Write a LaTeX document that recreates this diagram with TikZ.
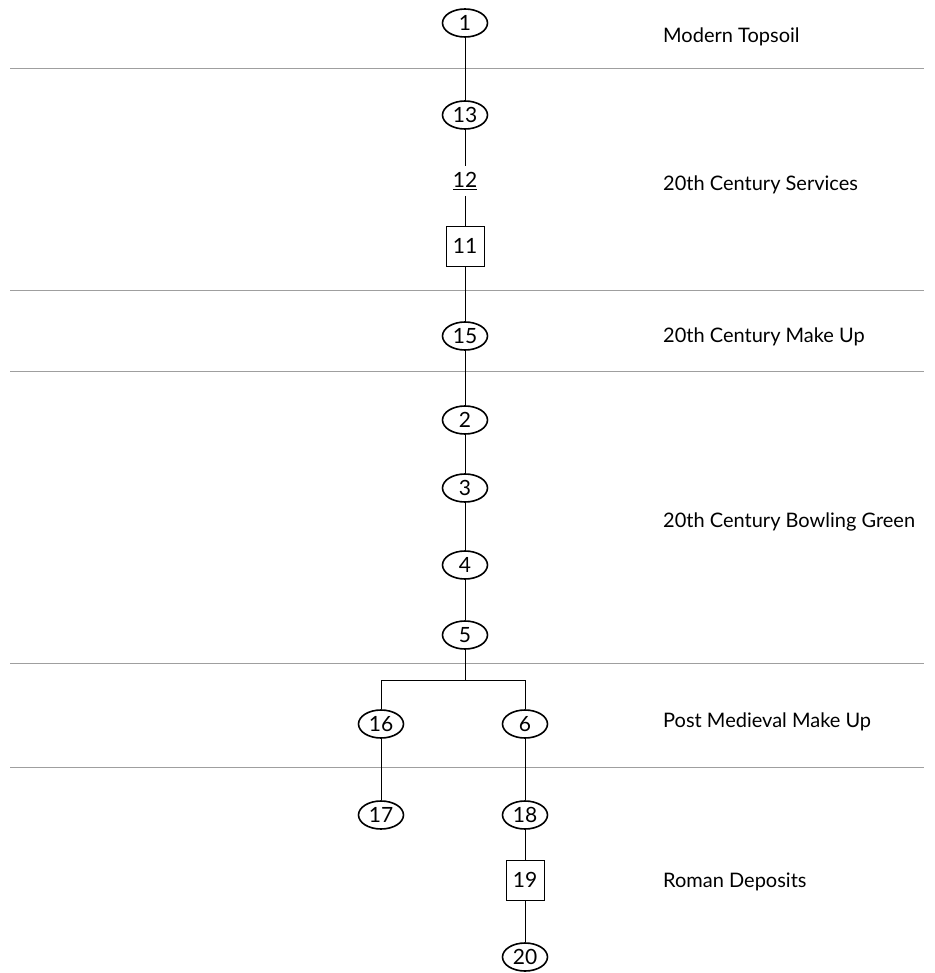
\documentclass[tikz,border=0pt]{standalone}
\usepackage{fontspec}
\setmainfont{Lato}
\usetikzlibrary{shapes.geometric}
\begin{document}
\begin{tikzpicture}[x=1pt,y=-1pt,
  ctx/.style={ellipse,draw,line width=1.6pt,minimum width=45pt,minimum height=28pt,inner sep=0pt,font=\fontsize{21}{21}\selectfont},
  boxn/.style={rectangle,draw,line width=0.8pt,minimum width=38pt,minimum height=40pt,inner sep=0pt,font=\fontsize{21}{21}\selectfont},
  txtn/.style={inner sep=6pt,font=\fontsize{21}{21}\selectfont},
  phase/.style={anchor=west,inner sep=0pt,font=\fontsize{20}{20}\selectfont},
  sep/.style={draw=gray!75,line width=1pt},
  link/.style={draw,line width=1pt}]
\useasboundingbox (0,0) rectangle (934,973);
% separators
\foreach \yy [count=\i] in {69,290,371,663,767}{
  \coordinate (sl\i) at (10,\yy);
  \coordinate (sr\i) at (924,\yy);
  \path[sep] (sl\i) -- (sr\i);
}
% nodes
\node[ctx] (n1) at (465,23) {1};
\node[ctx] (n13) at (465,115) {13};
\node[txtn] (n12) at (465,181) {\underline{12}};
\node[boxn] (n11) at (465,246) {11};
\node[ctx] (n15) at (465,336) {15};
\node[ctx] (n2) at (465,420) {2};
\node[ctx] (n3) at (465,488) {3};
\node[ctx] (n4) at (465,565) {4};
\node[ctx] (n5) at (465,635) {5};
\node[ctx] (n16) at (381,724) {16};
\node[ctx] (n6) at (525,724) {6};
\node[ctx] (n17) at (381,815) {17};
\node[ctx] (n18) at (525,815) {18};
\node[boxn] (n19) at (525,880) {19};
\node[ctx] (n20) at (525,957) {20};
\coordinate (br) at (465,680);
% connectors
\path[link] (n1) -- (n13);
\path[link] (n13) -- (n12);
\path[link] (n12) -- (n11);
\path[link] (n11) -- (n15);
\path[link] (n15) -- (n2);
\path[link] (n2) -- (n3);
\path[link] (n3) -- (n4);
\path[link] (n4) -- (n5);
\path[link] (n5) -- (br);
\path[link] (br) -| (n16);
\path[link] (br) -| (n6);
\path[link] (n16) -- (n17);
\path[link] (n6) -- (n18);
\path[link] (n18) -- (n19);
\path[link] (n19) -- (n20);
% phase labels
\node[phase] (p1) at (663,37) {Modern Topsoil};
\node[phase] (p2) at (663,185) {20th Century Services};
\node[phase] (p3) at (663,337) {20th Century Make Up};
\node[phase] (p4) at (663,522) {20th Century Bowling Green};
\node[phase] (p5) at (663,722) {Post Medieval Make Up};
\node[phase] (p6) at (663,882) {Roman Deposits};
\end{tikzpicture}
\end{document}
